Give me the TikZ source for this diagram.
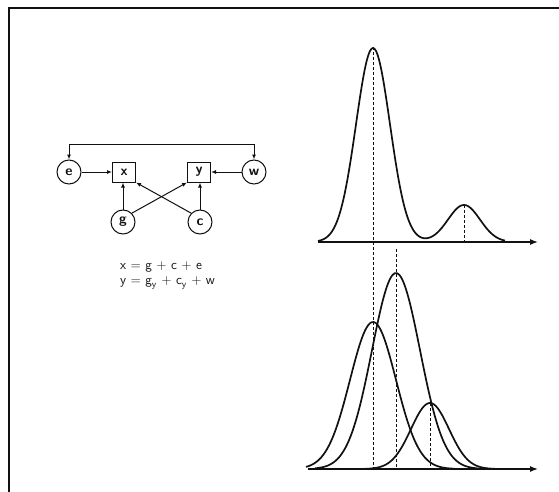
\documentclass[tikz,border=0pt]{standalone}
\usetikzlibrary{arrows.meta,positioning}
\definecolor{ink}{HTML}{111111}

\begin{document}
\begin{tikzpicture}[x=1pt,y=-1pt,font=\sffamily,text=ink,>={Latex[length=5pt,width=4pt]},
  var/.style={circle,draw=ink,line width=1pt,minimum size=24pt,inner sep=0pt,font=\sffamily\bfseries\fontsize{14}{16}\selectfont},
  obs/.style={rectangle,draw=ink,line width=1pt,minimum width=23pt,minimum height=20pt,inner sep=0pt,font=\sffamily\bfseries\fontsize{14}{16}\selectfont},
  link/.style={->,draw=ink,line width=1pt},
  curve/.style={draw=ink,line width=1.7pt,line join=round},
  axis/.style={->,draw=ink,line width=1.3pt,>={Latex[length=8pt,width=6pt]}},
  guide/.style={draw=ink,line width=.6pt,dash pattern=on 3pt off 2pt}]
  \useasboundingbox (0,0) rectangle (559,492);
  \draw[ink,line width=1.4pt] (9,492) -- (9,8) -- (559,8);

  \node[var] (e) at (69,172) {e};
  \node[obs] (x) at (124,172) {x};
  \node[obs] (y) at (199,172) {y};
  \node[var] (w) at (254,172) {w};
  \node[var] (g) at (123,222) {g};
  \node[var] (c) at (200,222) {c};
  \coordinate (bar) at (160,144);

  \draw[link,<->] (e.north) -- (e.north |- bar) -- (w.north |- bar) -- (w.north);
  \draw[link] (e) -- (x);
  \draw[link] (w) -- (y);
  \draw[link] (g.north) -- (g.north |- x.south);
  \draw[link] (c.north) -- (c.north |- y.south);
  \draw[link] (g.north east) -- (y.south west);
  \draw[link] (c.north west) -- (x.south east);

  \node[anchor=north west,align=left,inner sep=0pt,font=\sffamily\fontsize{13.5}{15}\selectfont] (eqs) at (120,262)
    {x = g + c + e\\y = g\textsubscript{y} + c\textsubscript{y} + w};

  \draw[curve] plot[domain=318:505,samples=120,smooth]
    (\x,{242-194*exp(-((\x-373)/17)^2/2)-37*exp(-((\x-464)/16)^2/2)});
  \draw[axis] (318,242) -- (538,242);

  \draw[curve] plot[domain=306:455,samples=80,smooth] (\x,{469-147*exp(-((\x-373)/23)^2/2)});
  \draw[curve] plot[domain=315:490,samples=80,smooth] (\x,{469-196*exp(-((\x-396)/24)^2/2)});
  \draw[curve] plot[domain=365:495,samples=80,smooth] (\x,{469-66*exp(-((\x-430)/19)^2/2)});
  \draw[axis] (308,469) -- (538,469);

  \draw[guide] (373,47) -- (373,469);
  \draw[guide] (396,249) -- (396,469);
  \draw[guide] (464,205) -- (464,242);
  \draw[guide] (430,403) -- (430,469);
\end{tikzpicture}
\end{document}
